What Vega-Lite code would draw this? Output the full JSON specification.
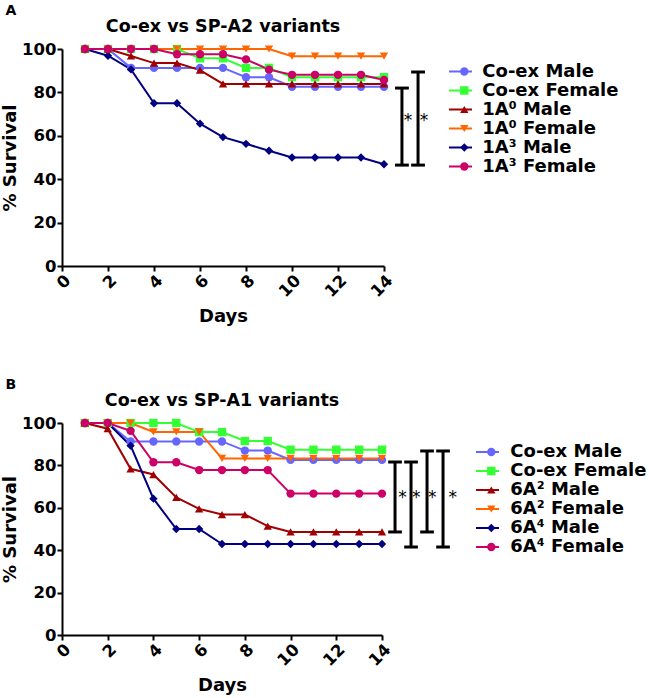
{
"$schema": "https://vega.github.io/schema/vega-lite/v6.json",
"background": "white",
"padding": {"left": 1, "top": 4, "right": 0, "bottom": 5},
"config": {
  "font": "DejaVu Sans",
  "view": {"stroke": null},
  "axis": {"grid": false, "domainColor": "black", "domainWidth": 2, "tickColor": "black", "tickWidth": 2, "tickSize": 5, "labelPadding": 1, "labelFont": "DejaVu Sans", "labelFontWeight": "bold", "labelFontSize": 16.5, "labelColor": "black", "titleFont": "DejaVu Sans", "titleFontWeight": "bold", "titleFontSize": 18, "titleColor": "black"},
  "legend": {"labelFont": "DejaVu Sans", "labelFontWeight": "bold", "labelFontSize": 18, "labelColor": "black", "padding": 0, "rowPadding": 0, "clipHeight": 19},
  "title": {"font": "DejaVu Sans", "fontWeight": "bold", "color": "black"}
},
"datasets": {
"s": [
{"p":"A","s":"Co-ex Male","d":1,"v":100},{"p":"A","s":"Co-ex Male","d":2,"v":100},{"p":"A","s":"Co-ex Male","d":3,"v":91.3},{"p":"A","s":"Co-ex Male","d":4,"v":91.3},{"p":"A","s":"Co-ex Male","d":5,"v":91.3},{"p":"A","s":"Co-ex Male","d":6,"v":91.3},{"p":"A","s":"Co-ex Male","d":7,"v":91.3},{"p":"A","s":"Co-ex Male","d":8,"v":87},{"p":"A","s":"Co-ex Male","d":9,"v":87},{"p":"A","s":"Co-ex Male","d":10,"v":82.6},{"p":"A","s":"Co-ex Male","d":11,"v":82.6},{"p":"A","s":"Co-ex Male","d":12,"v":82.6},{"p":"A","s":"Co-ex Male","d":13,"v":82.6},{"p":"A","s":"Co-ex Male","d":14,"v":82.6},
{"p":"A","s":"Co-ex Female","d":1,"v":100},{"p":"A","s":"Co-ex Female","d":2,"v":100},{"p":"A","s":"Co-ex Female","d":3,"v":100},{"p":"A","s":"Co-ex Female","d":4,"v":100},{"p":"A","s":"Co-ex Female","d":5,"v":100},{"p":"A","s":"Co-ex Female","d":6,"v":95.7},{"p":"A","s":"Co-ex Female","d":7,"v":95.7},{"p":"A","s":"Co-ex Female","d":8,"v":91.3},{"p":"A","s":"Co-ex Female","d":9,"v":91.3},{"p":"A","s":"Co-ex Female","d":10,"v":87},{"p":"A","s":"Co-ex Female","d":11,"v":87},{"p":"A","s":"Co-ex Female","d":12,"v":87},{"p":"A","s":"Co-ex Female","d":13,"v":87},{"p":"A","s":"Co-ex Female","d":14,"v":87},
{"p":"A","s":"1A⁰ Male","d":1,"v":100},{"p":"A","s":"1A⁰ Male","d":2,"v":100},{"p":"A","s":"1A⁰ Male","d":3,"v":96.8},{"p":"A","s":"1A⁰ Male","d":4,"v":93.5},{"p":"A","s":"1A⁰ Male","d":5,"v":93.5},{"p":"A","s":"1A⁰ Male","d":6,"v":90.3},{"p":"A","s":"1A⁰ Male","d":7,"v":83.9},{"p":"A","s":"1A⁰ Male","d":8,"v":83.9},{"p":"A","s":"1A⁰ Male","d":9,"v":83.9},{"p":"A","s":"1A⁰ Male","d":10,"v":83.9},{"p":"A","s":"1A⁰ Male","d":11,"v":83.9},{"p":"A","s":"1A⁰ Male","d":12,"v":83.9},{"p":"A","s":"1A⁰ Male","d":13,"v":83.9},{"p":"A","s":"1A⁰ Male","d":14,"v":83.9},
{"p":"A","s":"1A⁰ Female","d":1,"v":100},{"p":"A","s":"1A⁰ Female","d":2,"v":100},{"p":"A","s":"1A⁰ Female","d":3,"v":100},{"p":"A","s":"1A⁰ Female","d":4,"v":100},{"p":"A","s":"1A⁰ Female","d":5,"v":100},{"p":"A","s":"1A⁰ Female","d":6,"v":100},{"p":"A","s":"1A⁰ Female","d":7,"v":100},{"p":"A","s":"1A⁰ Female","d":8,"v":100},{"p":"A","s":"1A⁰ Female","d":9,"v":100},{"p":"A","s":"1A⁰ Female","d":10,"v":96.7},{"p":"A","s":"1A⁰ Female","d":11,"v":96.7},{"p":"A","s":"1A⁰ Female","d":12,"v":96.7},{"p":"A","s":"1A⁰ Female","d":13,"v":96.7},{"p":"A","s":"1A⁰ Female","d":14,"v":96.7},
{"p":"A","s":"1A³ Male","d":1,"v":100},{"p":"A","s":"1A³ Male","d":2,"v":96.9},{"p":"A","s":"1A³ Male","d":3,"v":90.6},{"p":"A","s":"1A³ Male","d":4,"v":75},{"p":"A","s":"1A³ Male","d":5,"v":75},{"p":"A","s":"1A³ Male","d":6,"v":65.6},{"p":"A","s":"1A³ Male","d":7,"v":59.4},{"p":"A","s":"1A³ Male","d":8,"v":56.3},{"p":"A","s":"1A³ Male","d":9,"v":53.1},{"p":"A","s":"1A³ Male","d":10,"v":50},{"p":"A","s":"1A³ Male","d":11,"v":50},{"p":"A","s":"1A³ Male","d":12,"v":50},{"p":"A","s":"1A³ Male","d":13,"v":50},{"p":"A","s":"1A³ Male","d":14,"v":46.9},
{"p":"A","s":"1A³ Female","d":1,"v":100},{"p":"A","s":"1A³ Female","d":2,"v":100},{"p":"A","s":"1A³ Female","d":3,"v":100},{"p":"A","s":"1A³ Female","d":4,"v":100},{"p":"A","s":"1A³ Female","d":5,"v":97.6},{"p":"A","s":"1A³ Female","d":6,"v":97.6},{"p":"A","s":"1A³ Female","d":7,"v":97.6},{"p":"A","s":"1A³ Female","d":8,"v":95.2},{"p":"A","s":"1A³ Female","d":9,"v":90.5},{"p":"A","s":"1A³ Female","d":10,"v":88.1},{"p":"A","s":"1A³ Female","d":11,"v":88.1},{"p":"A","s":"1A³ Female","d":12,"v":88.1},{"p":"A","s":"1A³ Female","d":13,"v":88.1},{"p":"A","s":"1A³ Female","d":14,"v":85.7},
{"p":"B","s":"Co-ex Male","d":1,"v":100},{"p":"B","s":"Co-ex Male","d":2,"v":100},{"p":"B","s":"Co-ex Male","d":3,"v":91.3},{"p":"B","s":"Co-ex Male","d":4,"v":91.3},{"p":"B","s":"Co-ex Male","d":5,"v":91.3},{"p":"B","s":"Co-ex Male","d":6,"v":91.3},{"p":"B","s":"Co-ex Male","d":7,"v":91.3},{"p":"B","s":"Co-ex Male","d":8,"v":87},{"p":"B","s":"Co-ex Male","d":9,"v":87},{"p":"B","s":"Co-ex Male","d":10,"v":82.6},{"p":"B","s":"Co-ex Male","d":11,"v":82.6},{"p":"B","s":"Co-ex Male","d":12,"v":82.6},{"p":"B","s":"Co-ex Male","d":13,"v":82.6},{"p":"B","s":"Co-ex Male","d":14,"v":82.6},
{"p":"B","s":"Co-ex Female","d":1,"v":100},{"p":"B","s":"Co-ex Female","d":2,"v":100},{"p":"B","s":"Co-ex Female","d":3,"v":100},{"p":"B","s":"Co-ex Female","d":4,"v":100},{"p":"B","s":"Co-ex Female","d":5,"v":100},{"p":"B","s":"Co-ex Female","d":6,"v":95.7},{"p":"B","s":"Co-ex Female","d":7,"v":95.7},{"p":"B","s":"Co-ex Female","d":8,"v":91.5},{"p":"B","s":"Co-ex Female","d":9,"v":91.5},{"p":"B","s":"Co-ex Female","d":10,"v":87.4},{"p":"B","s":"Co-ex Female","d":11,"v":87.4},{"p":"B","s":"Co-ex Female","d":12,"v":87.4},{"p":"B","s":"Co-ex Female","d":13,"v":87.4},{"p":"B","s":"Co-ex Female","d":14,"v":87.4},
{"p":"B","s":"6A² Male","d":1,"v":100},{"p":"B","s":"6A² Male","d":2,"v":97.3},{"p":"B","s":"6A² Male","d":3,"v":78.4},{"p":"B","s":"6A² Male","d":4,"v":75.7},{"p":"B","s":"6A² Male","d":5,"v":64.9},{"p":"B","s":"6A² Male","d":6,"v":59.5},{"p":"B","s":"6A² Male","d":7,"v":56.8},{"p":"B","s":"6A² Male","d":8,"v":56.8},{"p":"B","s":"6A² Male","d":9,"v":51.4},{"p":"B","s":"6A² Male","d":10,"v":48.6},{"p":"B","s":"6A² Male","d":11,"v":48.6},{"p":"B","s":"6A² Male","d":12,"v":48.6},{"p":"B","s":"6A² Male","d":13,"v":48.6},{"p":"B","s":"6A² Male","d":14,"v":48.6},
{"p":"B","s":"6A² Female","d":1,"v":100},{"p":"B","s":"6A² Female","d":2,"v":100},{"p":"B","s":"6A² Female","d":3,"v":100},{"p":"B","s":"6A² Female","d":4,"v":95.8},{"p":"B","s":"6A² Female","d":5,"v":95.8},{"p":"B","s":"6A² Female","d":6,"v":95.8},{"p":"B","s":"6A² Female","d":7,"v":83.3},{"p":"B","s":"6A² Female","d":8,"v":83.3},{"p":"B","s":"6A² Female","d":9,"v":83.3},{"p":"B","s":"6A² Female","d":10,"v":83.3},{"p":"B","s":"6A² Female","d":11,"v":83.3},{"p":"B","s":"6A² Female","d":12,"v":83.3},{"p":"B","s":"6A² Female","d":13,"v":83.3},{"p":"B","s":"6A² Female","d":14,"v":83.3},
{"p":"B","s":"6A⁴ Male","d":1,"v":100},{"p":"B","s":"6A⁴ Male","d":2,"v":100},{"p":"B","s":"6A⁴ Male","d":3,"v":89.3},{"p":"B","s":"6A⁴ Male","d":4,"v":64.3},{"p":"B","s":"6A⁴ Male","d":5,"v":50},{"p":"B","s":"6A⁴ Male","d":6,"v":50},{"p":"B","s":"6A⁴ Male","d":7,"v":42.9},{"p":"B","s":"6A⁴ Male","d":8,"v":42.9},{"p":"B","s":"6A⁴ Male","d":9,"v":42.9},{"p":"B","s":"6A⁴ Male","d":10,"v":42.9},{"p":"B","s":"6A⁴ Male","d":11,"v":42.9},{"p":"B","s":"6A⁴ Male","d":12,"v":42.9},{"p":"B","s":"6A⁴ Male","d":13,"v":42.9},{"p":"B","s":"6A⁴ Male","d":14,"v":42.9},
{"p":"B","s":"6A⁴ Female","d":1,"v":100},{"p":"B","s":"6A⁴ Female","d":2,"v":100},{"p":"B","s":"6A⁴ Female","d":3,"v":96.3},{"p":"B","s":"6A⁴ Female","d":4,"v":81.5},{"p":"B","s":"6A⁴ Female","d":5,"v":81.5},{"p":"B","s":"6A⁴ Female","d":6,"v":77.8},{"p":"B","s":"6A⁴ Female","d":7,"v":77.8},{"p":"B","s":"6A⁴ Female","d":8,"v":77.8},{"p":"B","s":"6A⁴ Female","d":9,"v":77.8},{"p":"B","s":"6A⁴ Female","d":10,"v":66.7},{"p":"B","s":"6A⁴ Female","d":11,"v":66.7},{"p":"B","s":"6A⁴ Female","d":12,"v":66.7},{"p":"B","s":"6A⁴ Female","d":13,"v":66.7},{"p":"B","s":"6A⁴ Female","d":14,"v":66.7}
],
"br": [
{"p":"A","x":14.78,"y1":82,"y2":46.5},{"p":"A","x":15.48,"y1":89.4,"y2":46.5},
{"p":"B","x":14.57,"y1":81.6,"y2":48.6},{"p":"B","x":15.27,"y1":81.6,"y2":41.5},{"p":"B","x":15.97,"y1":86.8,"y2":48.6},{"p":"B","x":16.67,"y1":86.8,"y2":41.5}
],
"cap": [
{"p":"A","x":14.48,"x2":15.08,"y":82},{"p":"A","x":14.48,"x2":15.08,"y":46.5},{"p":"A","x":15.18,"x2":15.78,"y":89.4},{"p":"A","x":15.18,"x2":15.78,"y":46.5},
{"p":"B","x":14.27,"x2":14.87,"y":81.6},{"p":"B","x":14.27,"x2":14.87,"y":48.6},{"p":"B","x":14.97,"x2":15.57,"y":81.6},{"p":"B","x":14.97,"x2":15.57,"y":41.5},{"p":"B","x":15.67,"x2":16.27,"y":86.8},{"p":"B","x":15.67,"x2":16.27,"y":48.6},{"p":"B","x":16.37,"x2":16.97,"y":86.8},{"p":"B","x":16.37,"x2":16.97,"y":41.5}
],
"st": [
{"p":"A","x":15.04,"y":67,"t":"*"},{"p":"A","x":15.74,"y":67,"t":"*"},
{"p":"B","x":14.9,"y":64.5,"t":"*"},{"p":"B","x":15.5,"y":64.5,"t":"*"},{"p":"B","x":16.2,"y":64.5,"t":"*"},{"p":"B","x":17.1,"y":64.5,"t":"*"}
]
},
"spacing": 52,
"resolve": {"scale": {"color": "independent", "shape": "independent"}, "legend": {"color": "independent", "shape": "independent"}},
"vconcat": [
{
 "title": {"text": "A", "anchor": "start", "fontSize": 14, "offset": 0, "dx": 4},
 "resolve": {"scale": {"color": "independent", "shape": "independent"}, "legend": {"color": "independent", "shape": "independent"}},
 "vconcat": [{
  "title": {"text": "Co-ex vs SP-A2 variants", "fontSize": 17.5, "anchor": "middle", "frame": "group", "offset": 5.5},
  "width": 322, "height": 217,
  "resolve": {"legend": {"color": "independent", "shape": "independent"}},
  "layer": [
   {"data": {"name": "s"}, "transform": [{"filter": "datum.p === 'A'"}],
    "mark": {"type": "line", "strokeWidth": 2},
    "encoding": {
     "x": {"field": "d", "type": "quantitative", "scale": {"domain": [0, 14], "nice": false}, "axis": {"title": "Days", "values": [0,2,4,6,8,10,12,14], "labelAngle": -45, "titlePadding": 8}},
     "y": {"field": "v", "type": "quantitative", "scale": {"domain": [0, 100], "nice": false}, "axis": {"title": "% Survival", "values": [0,20,40,60,80,100], "titlePadding": 2}},
     "color": {"field": "s", "type": "nominal", "scale": {"domain": ["Co-ex Male","Co-ex Female","1A⁰ Male","1A⁰ Female","1A³ Male","1A³ Female"], "range": ["#6666FF","#33FF33","#A00000","#FF6600","#000080","#CC0066"]},
      "legend": {"orient": "none", "legendX": 386, "legendY": 13, "title": null, "symbolType": "stroke", "symbolSize": 529, "symbolStrokeWidth": 2, "labelExpr": "''", "labelOffset": 0}}
    }},
   {"data": {"name": "s"}, "transform": [{"filter": "datum.p === 'A'"}],
    "mark": {"type": "point", "filled": true, "size": 70, "opacity": 1},
    "encoding": {
     "x": {"field": "d", "type": "quantitative", "scale": {"domain": [0, 14], "nice": false}},
     "y": {"field": "v", "type": "quantitative", "scale": {"domain": [0, 100], "nice": false}},
     "color": {"field": "s", "type": "nominal", "scale": {"domain": ["Co-ex Male","Co-ex Female","1A⁰ Male","1A⁰ Female","1A³ Male","1A³ Female"], "range": ["#6666FF","#33FF33","#A00000","#FF6600","#000080","#CC0066"]},
      "legend": {"orient": "none", "legendX": 393.3, "legendY": 13, "title": null, "symbolSize": 70, "symbolStrokeWidth": 0, "labelOffset": 9}},
     "shape": {"field": "s", "type": "nominal", "scale": {"domain": ["Co-ex Male","Co-ex Female","1A⁰ Male","1A⁰ Female","1A³ Male","1A³ Female"], "range": ["circle","square","triangle-up","triangle-down","diamond","circle"]},
      "legend": {"orient": "none", "legendX": 393.3, "legendY": 13, "title": null, "symbolSize": 70, "symbolStrokeWidth": 0, "labelOffset": 9}}
    }},
   {"data": {"name": "br"}, "transform": [{"filter": "datum.p === 'A'"}],
    "mark": {"type": "rule", "strokeWidth": 3, "color": "black"},
    "encoding": {"x": {"field": "x", "type": "quantitative"}, "y": {"field": "y1", "type": "quantitative"}, "y2": {"field": "y2"}}},
   {"data": {"name": "cap"}, "transform": [{"filter": "datum.p === 'A'"}],
    "mark": {"type": "rule", "strokeWidth": 3, "color": "black"},
    "encoding": {"x": {"field": "x", "type": "quantitative"}, "x2": {"field": "x2"}, "y": {"field": "y", "type": "quantitative"}}},
   {"data": {"name": "st"}, "transform": [{"filter": "datum.p === 'A'"}],
    "mark": {"type": "text", "fontSize": 17, "color": "black", "baseline": "middle", "align": "center"},
    "encoding": {"x": {"field": "x", "type": "quantitative"}, "y": {"field": "y", "type": "quantitative"}, "text": {"field": "t"}}}
  ]
 }]
},
{
 "title": {"text": "B", "anchor": "start", "fontSize": 14, "offset": 0, "dx": 4},
 "resolve": {"scale": {"color": "independent", "shape": "independent"}, "legend": {"color": "independent", "shape": "independent"}},
 "vconcat": [{
  "title": {"text": "Co-ex vs SP-A1 variants", "fontSize": 17.5, "anchor": "middle", "frame": "group", "offset": 5.5},
  "width": 320, "height": 212,
  "resolve": {"legend": {"color": "independent", "shape": "independent"}},
  "layer": [
   {"data": {"name": "s"}, "transform": [{"filter": "datum.p === 'B'"}],
    "mark": {"type": "line", "strokeWidth": 2},
    "encoding": {
     "x": {"field": "d", "type": "quantitative", "scale": {"domain": [0, 14], "nice": false}, "axis": {"title": "Days", "values": [0,2,4,6,8,10,12,14], "labelAngle": -45, "titlePadding": 8}},
     "y": {"field": "v", "type": "quantitative", "scale": {"domain": [0, 100], "nice": false}, "axis": {"title": "% Survival", "values": [0,20,40,60,80,100], "titlePadding": 2}},
     "color": {"field": "s", "type": "nominal", "scale": {"domain": ["Co-ex Male","Co-ex Female","6A² Male","6A² Female","6A⁴ Male","6A⁴ Female"], "range": ["#6666FF","#33FF33","#A00000","#FF6600","#000080","#CC0066"]},
      "legend": {"orient": "none", "legendX": 413, "legendY": 19.5, "title": null, "symbolType": "stroke", "symbolSize": 529, "symbolStrokeWidth": 2, "labelExpr": "''", "labelOffset": 0}}
    }},
   {"data": {"name": "s"}, "transform": [{"filter": "datum.p === 'B'"}],
    "mark": {"type": "point", "filled": true, "size": 70, "opacity": 1},
    "encoding": {
     "x": {"field": "d", "type": "quantitative", "scale": {"domain": [0, 14], "nice": false}},
     "y": {"field": "v", "type": "quantitative", "scale": {"domain": [0, 100], "nice": false}},
     "color": {"field": "s", "type": "nominal", "scale": {"domain": ["Co-ex Male","Co-ex Female","6A² Male","6A² Female","6A⁴ Male","6A⁴ Female"], "range": ["#6666FF","#33FF33","#A00000","#FF6600","#000080","#CC0066"]},
      "legend": {"orient": "none", "legendX": 420.3, "legendY": 19.5, "title": null, "symbolSize": 70, "symbolStrokeWidth": 0, "labelOffset": 10}},
     "shape": {"field": "s", "type": "nominal", "scale": {"domain": ["Co-ex Male","Co-ex Female","6A² Male","6A² Female","6A⁴ Male","6A⁴ Female"], "range": ["circle","square","triangle-up","triangle-down","diamond","circle"]},
      "legend": {"orient": "none", "legendX": 420.3, "legendY": 19.5, "title": null, "symbolSize": 70, "symbolStrokeWidth": 0, "labelOffset": 10}}
    }},
   {"data": {"name": "br"}, "transform": [{"filter": "datum.p === 'B'"}],
    "mark": {"type": "rule", "strokeWidth": 3, "color": "black"},
    "encoding": {"x": {"field": "x", "type": "quantitative"}, "y": {"field": "y1", "type": "quantitative"}, "y2": {"field": "y2"}}},
   {"data": {"name": "cap"}, "transform": [{"filter": "datum.p === 'B'"}],
    "mark": {"type": "rule", "strokeWidth": 3, "color": "black"},
    "encoding": {"x": {"field": "x", "type": "quantitative"}, "x2": {"field": "x2"}, "y": {"field": "y", "type": "quantitative"}}},
   {"data": {"name": "st"}, "transform": [{"filter": "datum.p === 'B'"}],
    "mark": {"type": "text", "fontSize": 17, "color": "black", "baseline": "middle", "align": "center"},
    "encoding": {"x": {"field": "x", "type": "quantitative"}, "y": {"field": "y", "type": "quantitative"}, "text": {"field": "t"}}}
  ]
 }]
}
]
}
